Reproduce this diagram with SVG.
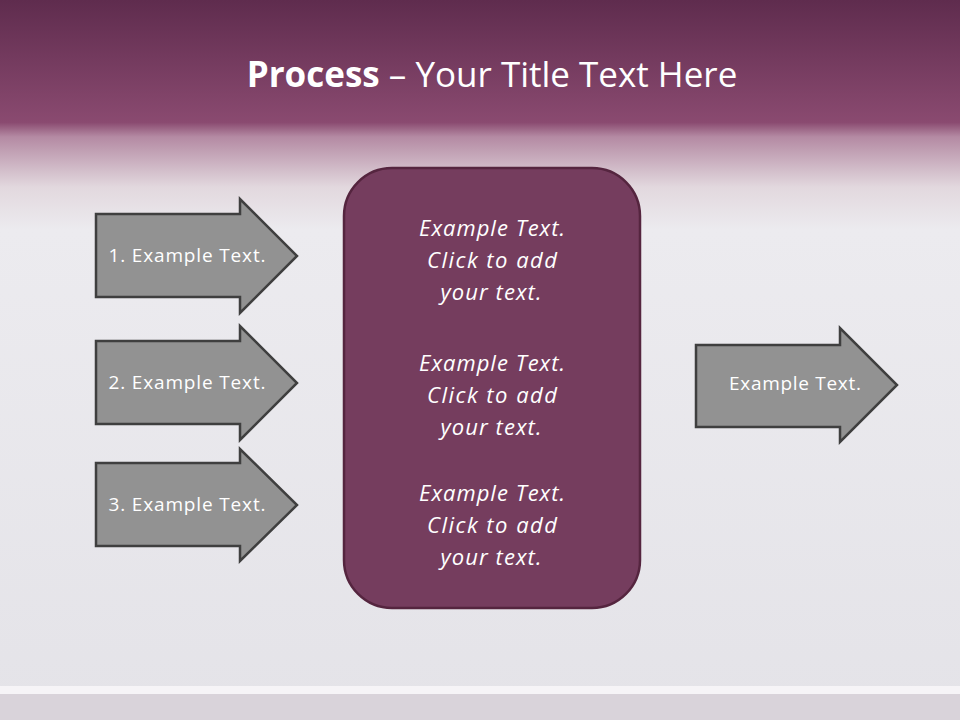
<svg xmlns="http://www.w3.org/2000/svg" width="960" height="720" viewBox="0 0 960 720">
<defs>
<linearGradient id="bg" x1="0" y1="0" x2="0" y2="1">
<stop offset="0" stop-color="#5f2c4e"/>
<stop offset="0.17" stop-color="#8a4a70"/>
<stop offset="0.19" stop-color="#b48aa3"/>
<stop offset="0.26" stop-color="#e2d8de"/>
<stop offset="0.32" stop-color="#ecebef"/>
<stop offset="1" stop-color="#e4e3e8"/>
</linearGradient>
<style>
.arr{fill:#929292;stroke:#3f3f3f;stroke-width:2.5}
.at{font-family:"Open Sans","Liberation Sans",sans-serif;font-size:19px;fill:#fff;text-anchor:middle}
.bt{font-family:"Open Sans","Liberation Sans",sans-serif;font-size:22px;font-style:italic;fill:#fff;text-anchor:middle}
</style>
</defs>
<rect width="960" height="720" fill="url(#bg)"/>
<rect y="686" width="960" height="8" fill="#f6f4f7"/>
<rect y="694" width="960" height="26" fill="#d9d3da"/>
<text x="492" y="87" font-family="'Open Sans','Liberation Sans',sans-serif" font-size="35" fill="#fff" text-anchor="middle"><tspan font-weight="bold">Process</tspan> – Your Title Text Here</text>
<g id="a1"><path class="arr" d="M96 214H240V199L297 256L240 313V297H96Z"/><text class="at" x="187" y="262" textLength="157">1. Example Text.</text></g>
<g id="a2"><path class="arr" d="M96 341H240V326L297 383L240 440V424H96Z"/><text class="at" x="187" y="389" textLength="157">2. Example Text.</text></g>
<g id="a3"><path class="arr" d="M96 463H240V449L297 505L240 561V546H96Z"/><text class="at" x="187" y="511" textLength="157">3. Example Text.</text></g>
<g id="a4"><path class="arr" d="M696 345H840V328L897 385L840 442V427H696Z"/><text class="at" x="795" y="390" textLength="132">Example Text.</text></g>
<g id="box"><rect x="344" y="168" width="296" height="440" rx="48" fill="#753d5e" stroke="#55253f" stroke-width="2.5"/>
<g class="bt">
<text class="bt" x="492" y="236" textLength="146">Example Text.</text><text class="bt" x="492" y="268" textLength="130">Click  to add</text><text class="bt" x="491" y="300" textLength="101">your text.</text>
<text class="bt" x="492" y="371" textLength="146">Example Text.</text><text class="bt" x="492" y="403" textLength="130">Click  to add</text><text class="bt" x="491" y="435" textLength="101">your text.</text>
<text class="bt" x="492" y="501" textLength="146">Example Text.</text><text class="bt" x="492" y="533" textLength="130">Click  to add</text><text class="bt" x="491" y="565" textLength="101">your text.</text>
</g>
</g>
<g id="connectors"/>
</svg>
